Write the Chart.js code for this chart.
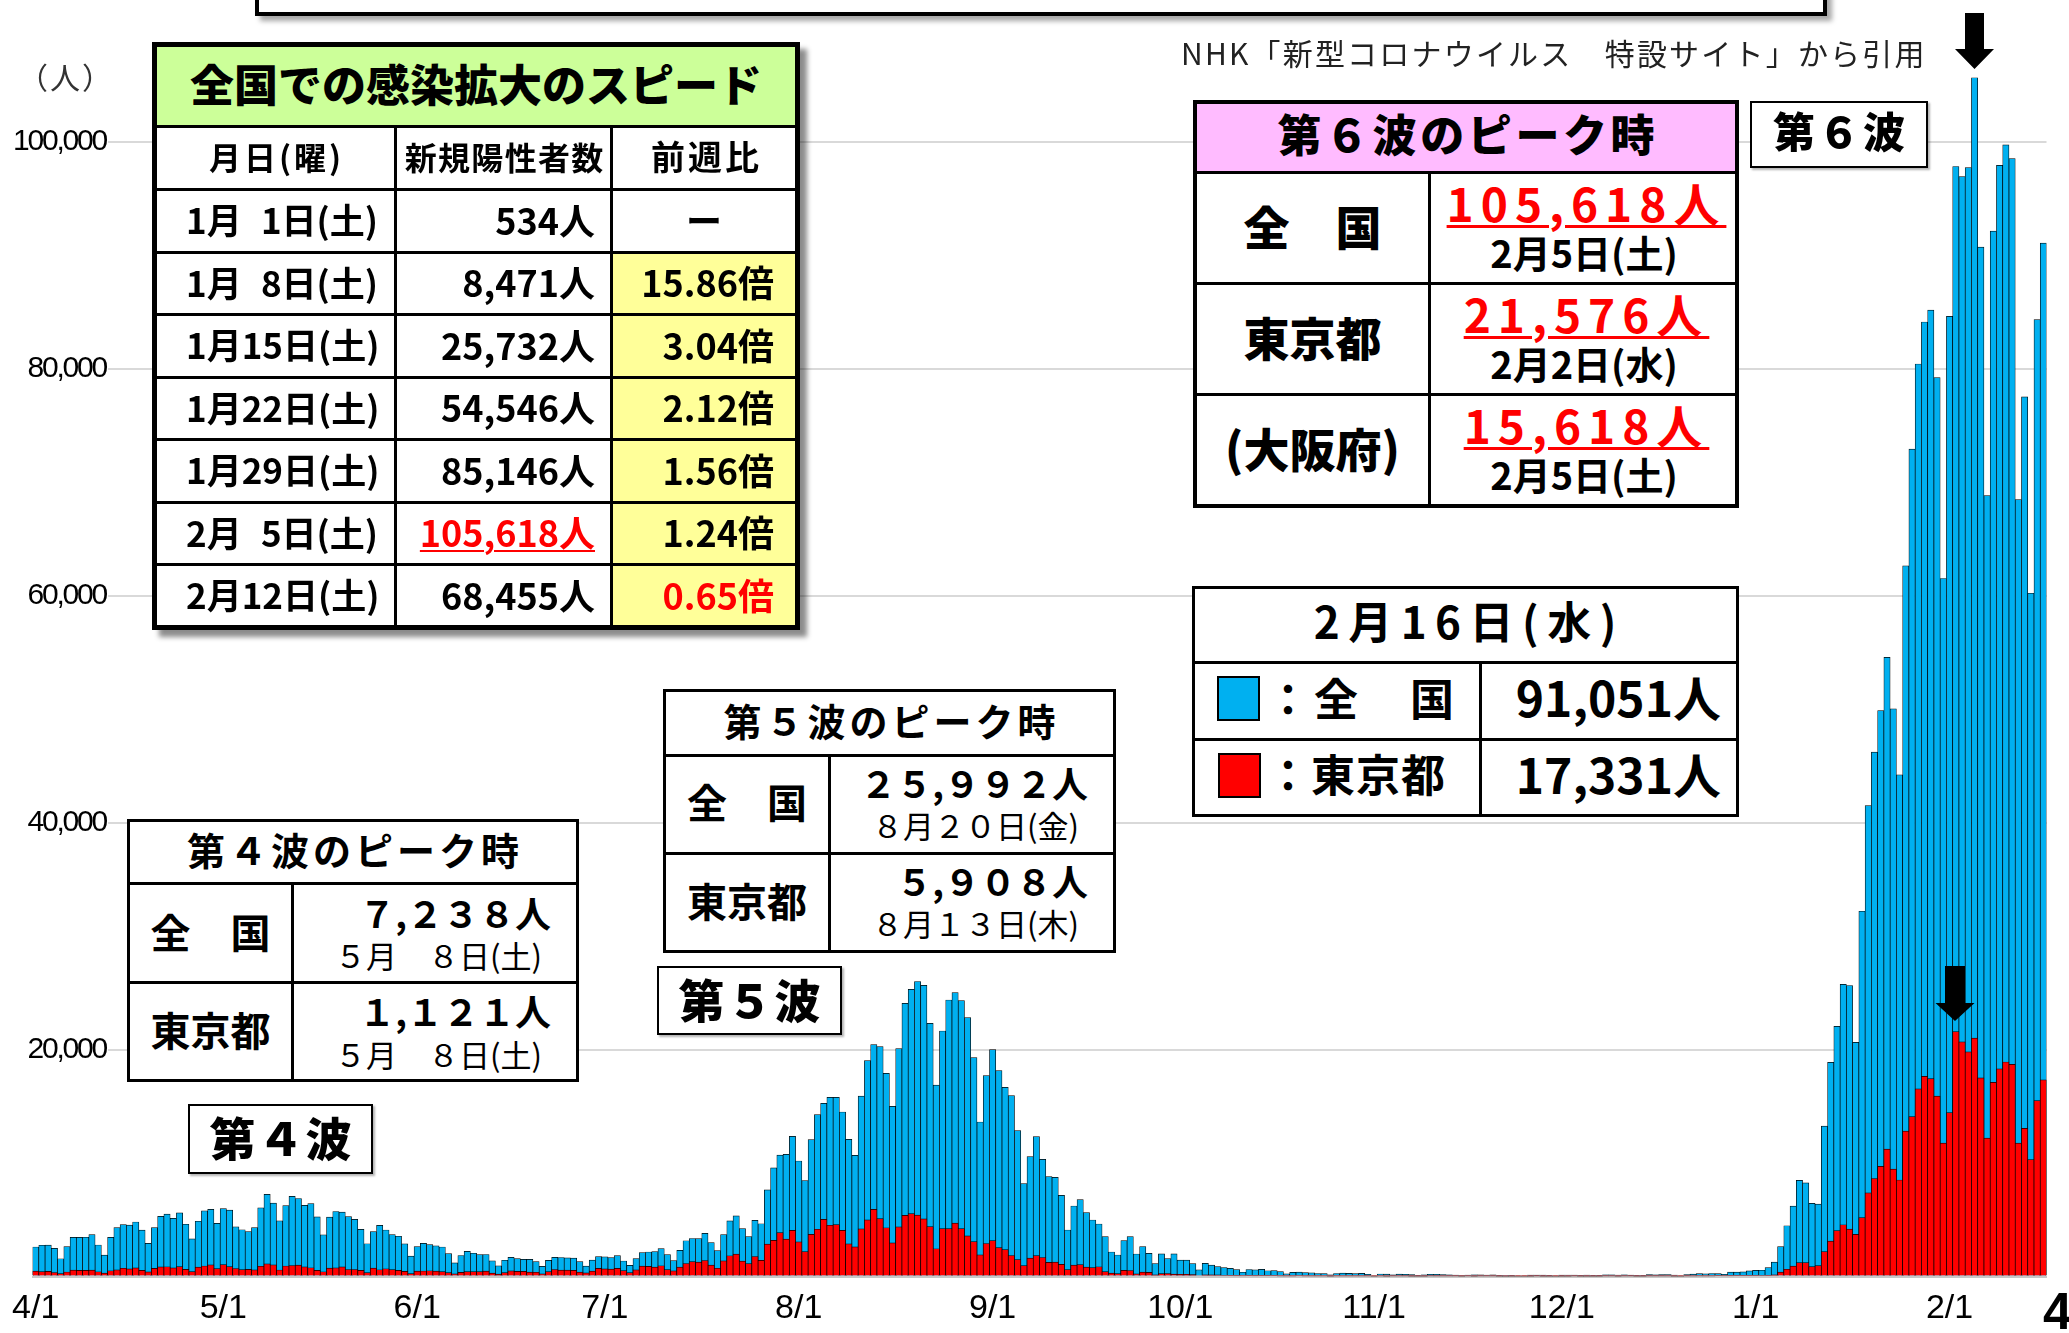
<!DOCTYPE html>
<html><head><meta charset="utf-8">
<script src="https://cdn.jsdelivr.net/npm/chart.js@4.4.1/dist/chart.umd.min.js"></script>
<style>
html,body{margin:0;padding:0;background:#fff;}
#wrap{position:relative;width:2069px;height:1333px;overflow:hidden;background:#fff;}
#c{position:absolute;left:0;top:0;}
.abs{position:absolute;box-sizing:border-box;}
.t{position:absolute;white-space:nowrap;font-family:"Noto Sans CJK JP","Noto Sans CJK SC",sans-serif;color:#000;}
</style></head><body>
<div id="wrap"><canvas id="c" width="2069" height="1333"></canvas><div id="ov"></div></div>
<script>
// ---------------- DATA ----------------
const monthList = [[4,30],[5,31],[6,30],[7,31],[8,31],[9,30],[10,31],[11,30],[12,31],[1,31],[2,16]];
const tickLabels = ['4/1','5/1','6/1','7/1','8/1','9/1','10/1','11/1','12/1','1/1','2/1'];
const yTicks = [0,20000,40000,60000,80000,100000];

// 全国 daily new cases (2021/4/1 – 2022/2/16)
const national = [
  // Apr
  2599,2757,2769,2471,1565,2642,3451,3447,3459,3697,2778,1877,3455,4311,4573,4532,4802,4092,2924,4312,5291,5500,5119,5606,4606,3314,4869,5791,5916,4681,
  // May
  5979,5858,4380,4120,3950,4300,6052,7238,6472,4909,6244,7056,6876,6265,6417,5251,3677,5229,5727,5674,5283,5040,4155,2886,3950,4500,4100,3700,3550,2885,1804,
  // Jun
  2636,2929,2818,2704,2599,2020,1201,1850,2220,2050,1936,1941,1387,940,1432,1692,1583,1513,1517,1305,888,1418,1679,1676,1634,1616,1318,909,1446,1756,
  // Jul
  1738,1660,1836,1366,984,1571,2100,2159,2188,2452,1924,1395,2306,3150,3350,3330,3800,2980,2276,3700,4900,5340,4220,3510,4950,4650,7630,9570,10700,10760,12340,
  // Aug
  10177,8444,12057,14259,15258,15786,15786,14494,12086,10676,15900,19017,20427,20250,17901,14994,20074,24068,25302,25992,25652,22304,16870,21630,24362,25008,24303,22805,19281,13612,17696,
  // Sep
  19986,18135,16667,15933,12849,8179,10558,12321,10324,8796,8738,7152,4097,6212,6770,5625,4978,4626,3510,2159,1894,3157,3510,1982,2629,2041,1128,1994,1571,1987,
  // Oct
  1442,1444,1143,594,1151,997,873,788,726,602,378,618,593,623,507,512,429,234,373,388,345,325,264,258,154,264,300,283,257,282,199,
  // Nov
  86,222,215,148,218,199,162,107,156,200,197,179,150,134,81,126,146,140,127,138,98,50,79,86,90,116,122,120,78,91,
  // Dec
  119,127,134,112,130,70,110,143,149,125,148,115,77,113,167,145,159,175,127,90,166,219,262,237,267,256,202,381,394,405,498,
  // Jan
  534,552,782,1265,2638,4475,6211,8471,8245,6440,6384,13243,18859,22045,25732,25640,20632,32184,41484,46199,49854,54546,50014,44200,62613,72900,80400,84100,85146,79200,61500,
  // Feb
  84600,97800,96900,97700,105618,90700,68800,92100,97900,99700,98500,68455,77500,60200,84300,91051
];

// 東京都 daily new cases
const tokyo = [
  // Apr
  475,440,446,355,249,399,555,545,537,570,421,306,510,591,729,667,759,543,405,711,843,861,759,876,635,425,828,925,1027,698,
  // May
  1050,879,708,609,621,591,907,1121,1032,573,925,969,1010,854,772,542,419,732,766,843,618,620,535,340,743,597,684,614,539,449,260,
  // Jun
  471,487,508,472,436,351,235,369,440,439,435,467,304,209,337,501,452,453,388,376,236,435,619,570,562,534,386,317,476,714,
  // Jul
  673,660,716,518,342,593,920,896,822,950,614,502,830,1149,1308,1271,1410,1008,727,1387,1832,1979,1359,1128,1763,1429,2848,3177,3865,3300,4058,
  // Aug
  3058,2195,3709,4166,5042,4515,4566,4066,2884,2612,4200,4989,5908,5094,4295,2962,4377,5386,5534,5405,5074,4392,2447,4220,4228,4704,4227,3581,3081,1915,2909,
  // Sep
  3168,2539,2362,1853,1490,968,1629,1834,1675,1242,1273,1067,611,1004,1052,831,782,862,435,302,253,537,531,235,382,362,154,248,267,218,
  // Oct
  200,196,161,87,144,149,138,82,66,60,49,77,62,65,72,66,40,29,36,41,36,26,32,19,17,29,36,21,23,21,22,
  // Nov
  9,29,17,24,23,23,18,16,18,40,30,26,23,26,7,21,18,20,21,21,12,5,11,8,18,16,20,13,9,16,
  // Dec
  15,18,24,17,16,11,17,20,22,17,30,21,10,16,19,21,27,32,13,9,25,36,37,35,37,76,43,61,76,64,78,
  // Jan
  79,84,103,151,390,641,922,1224,1223,871,962,2198,3124,4051,4561,4172,3719,5185,7377,8638,9699,11227,9468,8503,12813,14086,16538,17631,17433,15895,11751,
  // Feb
  14445,21576,20679,19798,21000,17500,12200,17100,18300,18900,18700,11750,13050,10300,15500,17331
];

// table texts
const speedDates  = ['1月{s}1日(土)','1月{s}8日(土)','1月15日(土)','1月22日(土)','1月29日(土)','2月{s}5日(土)','2月12日(土)'];
const speedCounts = ['534人','8,471人','25,732人','54,546人','85,146人','105,618人','68,455人'];
const speedRatios = ['ー','15.86倍','3.04倍','2.12倍','1.56倍','1.24倍','0.65倍'];
const wave6Names  = ['全　国','東京都','(大阪府)'];
const wave6Counts = ['105,618人','21,576人','15,618人'];
const wave6Dates  = ['2月5日(土)','2月2日(水)','2月5日(土)'];

// categories built from month lengths
const categories = [];
monthList.forEach(([m,n]) => { for (let d = 1; d <= n; d++) categories.push(m + '/' + d); });

// ---------------- Y LABEL FONT ----------------
const mctx = document.createElement('canvas').getContext('2d');
const yFam = '"Liberation Sans", Arial, sans-serif', ySize = 30, yLetter = -2.2;
mctx.font = ySize + 'px ' + yFam;
const yWidest = mctx.measureText('100,000').width;
const yLabelRight = 103.5 - yLetter;   // right edge of y tick labels (trailing spacing compensated)
const yAxisWidth = 32.2;               // chart area left edge

// condensed look for the y tick labels: negative letter spacing only while the y labels are drawn
const spacingPlugin = {
  id: 'ySpacing',
  afterDatasetsDraw(chart){ chart.ctx.letterSpacing = yLetter + 'px'; },
  afterDraw(chart){ chart.ctx.letterSpacing = '0px'; }
};

// ---------------- CHART ----------------
new Chart(document.getElementById('c'), {
  type: 'bar',
  plugins: [spacingPlugin],
  data: {
    labels: categories,
    datasets: [
      { label: '東京都', data: tokyo, backgroundColor: '#FF0000', borderColor: '#000', borderWidth: 0.7,
        grouped: false, barPercentage: 1, categoryPercentage: 1, order: 0 },
      { label: '全国', data: national, backgroundColor: '#00B0F0', borderColor: '#000', borderWidth: 0.7,
        grouped: false, barPercentage: 1, categoryPercentage: 1, order: 1 }
    ]
  },
  options: {
    responsive: false, animation: false, devicePixelRatio: 1,
    layout: { padding: { top: 28, right: 22.5, bottom: 0, left: 0 } },
    plugins: { legend: { display: false }, tooltip: { enabled: false } },
    scales: {
      x: {
        grid: { display: false, drawTicks: false },
        border: { display: true, color: '#c8c8c8', width: 2 },
        ticks: {
          autoSkip: false, maxRotation: 0, minRotation: 0, padding: 12, color: '#000',
          font: { family: '"Liberation Sans", Arial, sans-serif', size: 34 },
          callback: (v, i) => tickLabels.includes(categories[i]) ? categories[i] : ''
        },
        afterFit: s => { s.height = 56.5; }
      },
      y: {
        min: 0, max: 110000,
        grid: { color: '#d9d9d9', lineWidth: 2, drawTicks: false },
        border: { display: false },
        afterBuildTicks: s => { s.ticks = yTicks.map(v => ({ value: v })); },
        ticks: {
          z: 1, mirror: true, crossAlign: 'far',
          padding: yLabelRight - yAxisWidth - yWidest, color: '#000', font: { family: yFam, size: ySize },
          callback: v => v === 0 ? '' : v.toLocaleString('en-US'),
          showLabelBackdrop: ctx => !!(ctx.tick && ctx.tick.value !== 0),
          backdropColor: '#fff', backdropPadding: { left: 3, right: 2, top: 2, bottom: 2 }
        },
        afterFit: s => { s.width = yAxisWidth; }
      }
    }
  }
});

// ---------------- OVERLAYS ----------------
const ov = document.getElementById('ov');
function rect(x, y, w, h, css){
  const d = document.createElement('div'); d.className = 'abs';
  Object.assign(d.style, { left: x+'px', top: y+'px', width: w+'px', height: h+'px' }, css || {});
  ov.appendChild(d); return d;
}
function text(str, o){
  const d = document.createElement('div'); d.className = 't';
  if (o.html) d.innerHTML = str; else d.textContent = str;
  const s = o.size, ls = o.ls || 0;
  d.style.fontSize = s+'px'; d.style.lineHeight = s+'px';
  d.style.fontWeight = o.weight || 700;
  if (o.color) d.style.color = o.color;
  if (ls) d.style.letterSpacing = ls+'px';
  if (o.family) d.style.fontFamily = o.family;
  d.style.top = (o.y - s/2 - s*0.06) + 'px';
  if (o.align === 'left') { d.style.left = o.x+'px'; }
  else if (o.align === 'right') { d.style.left = (o.x + ls)+'px'; d.style.transform = 'translateX(-100%)'; }
  else { d.style.left = (o.x + ls/2)+'px'; d.style.transform = 'translateX(-50%)'; }
  if (o.underline) {
    d.style.textDecoration = 'underline'; d.style.textDecorationThickness = (o.ut || 2)+'px';
    d.style.textUnderlineOffset = (o.uo || 4)+'px'; d.style.textDecorationColor = o.color || '#000';
  }
  ov.appendChild(d); return d;
}
const W = { background: '#fff' };

// top banner (cut off)
rect(255, -20, 1572, 36, { border: '4px solid #000', background: '#fff', boxShadow: '5px 5px 5px rgba(0,0,0,0.35)' });
// source
text('NHK「新型コロナウイルス　特設サイト」から引用', { x: 1181, y: 53.5, size: 30, weight: 400, color: '#222', ls: 2.2, align: 'left' });
// unit
text('（人）', { x: 18, y: 78, size: 30, weight: 400, color: '#333', ls: 2, align: 'left' });
// page number
text('4', { x: 2043, y: 1314, size: 52, weight: 700, align: 'left', family: '"Liberation Sans", Arial, sans-serif' });

// ---- speed table ----
rect(152, 42, 648, 588, { background: '#000', boxShadow: '7px 7px 5px rgba(0,0,0,0.45)' });
rect(157, 47, 638, 78, { background: '#CCFF99' });
text('全国での感染拡大のスピード', { x: 476, y: 86, size: 44, weight: 900 });
const sc = [[157,237],[397,213],[613,182]];
sc.forEach(([x,w]) => rect(x, 128, w, 60, W));
text('月日(曜)', { x: 275, y: 158, size: 32, ls: 3 });
text('新規陽性者数', { x: 504, y: 158, size: 32, ls: 1.3 });
text('前週比', { x: 705, y: 158, size: 34, ls: 3 });
for (let i = 0; i < 7; i++) {
  const y = 191 + i*62.5, h = (i === 6 ? 59 : 59.5), yc = y + 29.75;
  rect(157, y, 237, h, W); rect(397, y, 213, h, W);
  rect(613, y, 182, h, { background: i === 0 ? '#fff' : '#FFFF99' });
  text(speedDates[i].replace('{s}', '<span style="display:inline-block;width:0.55em"></span>'), { x: 186, y: yc, size: 35, align: 'left', html: true });
  const red = i === 5;
  text(speedCounts[i], { x: 595, y: yc, size: 36, align: 'right', color: red ? '#FF0000' : '#000', underline: red, ut: 2, uo: 3 });
  if (i === 0) text(speedRatios[i], { x: 704, y: yc, size: 36 });
  else text(speedRatios[i], { x: 774, y: yc, size: 36, align: 'right', color: i === 6 ? '#FF0000' : '#000' });
}

// ---- wave 4 table ----
rect(127, 819, 452, 263, { background: '#000' });
rect(130, 822, 446, 60, W);
rect(130, 885, 161, 96, W); rect(294, 885, 282, 96, W);
rect(130, 984, 161, 95, W); rect(294, 984, 282, 95, W);
text('第４波のピーク時', { x: 353, y: 851, size: 38, ls: 4 });
text('全　国', { x: 210.5, y: 933, size: 40 });
text('７,２３８人', { x: 551, y: 914, size: 36 , align: 'right'});
text('５月　８日(土)', { x: 542, y: 956, size: 31, weight: 400, align: 'right' });
text('東京都', { x: 210.5, y: 1031.5, size: 40 });
text('１,１２１人', { x: 551, y: 1012.5, size: 36, align: 'right' });
text('５月　８日(土)', { x: 542, y: 1055, size: 31, weight: 400, align: 'right' });

// ---- wave 5 table ----
rect(663, 689, 453, 264, { background: '#000' });
rect(666, 692, 447, 62, W);
rect(666, 757, 162, 95, W); rect(831, 757, 282, 95, W);
rect(666, 855, 162, 95, W); rect(831, 855, 282, 95, W);
text('第５波のピーク時', { x: 889.5, y: 722, size: 38, ls: 4 });
text('全　国', { x: 747, y: 803.5, size: 40 });
text('２５,９９２人', { x: 1088, y: 784, size: 36, align: 'right' });
text('８月２０日(金)', { x: 1079, y: 826.5, size: 31, weight: 400, align: 'right' });
text('東京都', { x: 747, y: 902, size: 40 });
text('５,９０８人', { x: 1088, y: 882.5, size: 36, align: 'right' });
text('８月１３日(木)', { x: 1079, y: 924.5, size: 31, weight: 400, align: 'right' });

// ---- wave labels ----
const lblCss = { border: '2.5px solid #000', background: '#fff', boxShadow: '2px 2px 2px rgba(0,0,0,0.3)' };
rect(188, 1104, 185, 70, lblCss); text('第４波', { x: 280.5, y: 1139, size: 46, ls: 2, weight: 900 });
rect(657, 966, 185, 69, lblCss); text('第５波', { x: 749.5, y: 1000.5, size: 46, ls: 2, weight: 900 });
rect(1750, 101, 178, 67, lblCss); text('第６波', { x: 1839, y: 133, size: 42, ls: 3, weight: 900 });

// ---- wave 6 table ----
rect(1193, 100, 546, 408, { background: '#000' });
rect(1197, 104, 538, 67, { background: '#FFBBFF' });
text('第６波のピーク時', { x: 1466, y: 136, size: 44, ls: 3.6, weight: 900 });
for (let i = 0; i < 3; i++) {
  const y = 174 + i*111, yc = y + 54;
  rect(1197, y, 231, 108, W); rect(1431, y, 304, 108, W);
  text(wave6Names[i], { x: 1312.5, y: yc, size: 46, weight: 900 });
  text(wave6Counts[i], { x: 1583, y: yc - 23, size: 46, ls: 7, color: '#FF0000', underline: true, ut: 2.5, uo: 3 });
  text(wave6Dates[i], { x: 1584, y: yc + 26, size: 38 });
}

// ---- 2/16 legend table ----
rect(1192, 586, 546.5, 231, { background: '#000' });
rect(1195, 589, 540.5, 72, W);
rect(1195, 664, 284, 74, W); rect(1482, 664, 253.5, 74, W);
rect(1195, 741, 284, 73, W); rect(1482, 741, 253.5, 73, W);
text('2月16日(水)', { x: 1465, y: 623, size: 44, ls: 8.5 });
rect(1217, 676, 43, 45, { background: '#00B0F0', border: '2px solid #000' });
rect(1218, 753, 43, 45, { background: '#FF0000', border: '2px solid #000' });
text('：全　国', { x: 1266, y: 700, size: 44, ls: 4, align: 'left' });
text('：東京都', { x: 1266, y: 776, size: 44, ls: 1, align: 'left' });
text('91,051人', { x: 1721, y: 699, size: 48, align: 'right' });
text('17,331人', { x: 1721, y: 776, size: 48, align: 'right' });

// ---- arrows ----
const svgNS = 'http://www.w3.org/2000/svg';
const svg = document.createElementNS(svgNS, 'svg');
svg.setAttribute('width', 2069); svg.setAttribute('height', 1333);
svg.style.position = 'absolute'; svg.style.left = '0'; svg.style.top = '0';
function arrow(cx, top, shaftW, shaftH, headW, headH){
  const p = document.createElementNS(svgNS, 'polygon');
  const a = cx - shaftW/2, b = cx + shaftW/2, yb = top + shaftH;
  p.setAttribute('points', `${a},${top} ${b},${top} ${b},${yb} ${cx+headW/2},${yb} ${cx},${yb+headH} ${cx-headW/2},${yb} ${a},${yb}`);
  p.setAttribute('fill', '#000'); svg.appendChild(p);
}
arrow(1974.5, 13, 19, 36, 39, 20);
arrow(1955, 966, 20, 37, 39, 18);
ov.appendChild(svg);
</script>
</body></html>
